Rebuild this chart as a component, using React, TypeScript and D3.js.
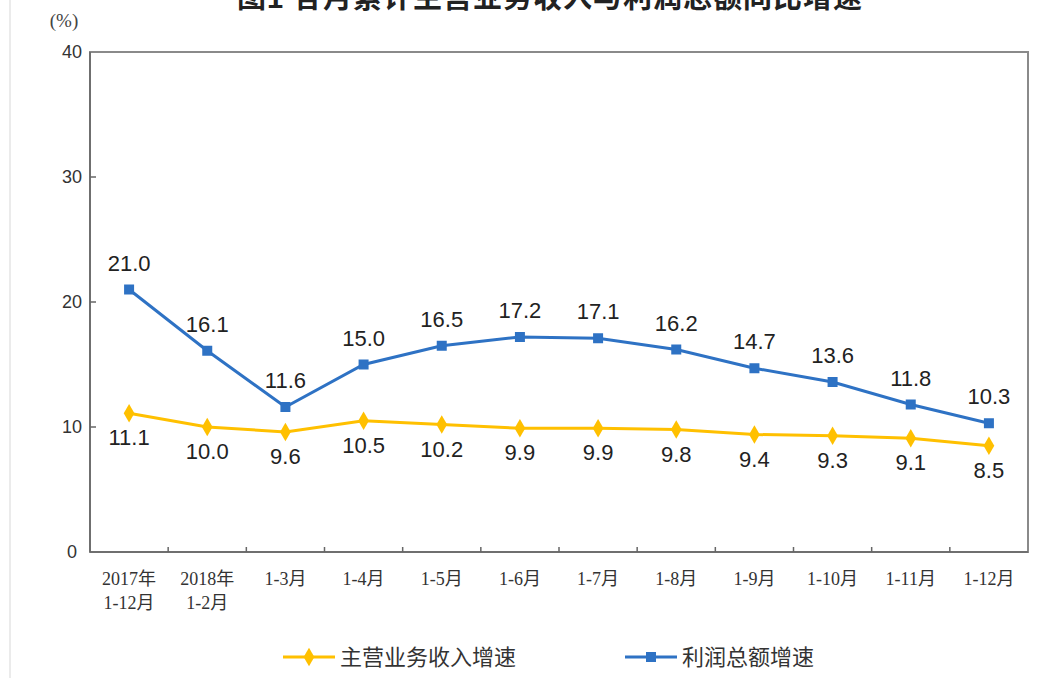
import React from "react";
import * as d3 from "d3";

const categories = [
	["2017年", "1-12月"],
	["2018年", "1-2月"],
	["1-3月"],
	["1-4月"],
	["1-5月"],
	["1-6月"],
	["1-7月"],
	["1-8月"],
	["1-9月"],
	["1-10月"],
	["1-11月"],
	["1-12月"],
];
const revenueGrowth = [11.1, 10.0, 9.6, 10.5, 10.2, 9.9, 9.9, 9.8, 9.4, 9.3, 9.1, 8.5];
const profitGrowth = [21.0, 16.1, 11.6, 15.0, 16.5, 17.2, 17.1, 16.2, 14.7, 13.6, 11.8, 10.3];
const yTicks = [0, 10, 20, 30, 40];
const seriesNames = ["主营业务收入增速", "利润总额增速"];
const title = "图1  各月累计主营业务收入与利润总额同比增速";

const W = 1049;
const H = 678;
const left = 90;
const right = 1028;
const top = 52;
const bottom = 552;
const yellow = "#FFC000";
const blue = "#2E72C4";
const serif = "'Liberation Serif', 'Noto Sans CJK SC', serif";
const sans = "'Liberation Sans', Arial, 'Noto Sans CJK SC', sans-serif";

const idx = categories.map((_, i) => i);
const x = d3.scaleBand<number>().domain(idx).range([left, right]);
const cx = (i: number) => (x(i) as number) + x.bandwidth() / 2;
const y = d3.scaleLinear().domain([0, 40]).range([bottom, top]);
const line = d3
	.line<number>()
	.x((_, i) => cx(i))
	.y((d) => y(d));
const diamond = d3.symbol().type(d3.symbolDiamond).size(100);

export default function App() {
	return (
		<svg
			width={W}
			height={H}
			style={{ display: "block", position: "absolute", left: 0, top: 0, background: "#fff" }}>
			<line x1={10} x2={10} y1={0} y2={H} stroke="#e4e4e4" strokeWidth={1.5} />
			<text
				x={550}
				y={8}
				textAnchor="middle"
				style={{ fontFamily: sans, fontSize: 29, fontWeight: "bold", fill: "#222", letterSpacing: 1 }}>
				{title}
			</text>
			<text x={64} y={27} textAnchor="middle" style={{ fontFamily: serif, fontSize: 19, fill: "#444" }}>
				(%)
			</text>
			{/* frame */}
			<rect x={left} y={top} width={right - left} height={bottom - top} fill="none" stroke="#8a8a8a" strokeWidth={2} />
			<line x1={left} x2={left} y1={top} y2={bottom} stroke="#666" strokeWidth={1.5} />
			<line x1={left} x2={right} y1={bottom} y2={bottom} stroke="#666" strokeWidth={1.5} />
			{yTicks.map((t) => (
				<g key={t}>
					{t > 0 && t < 40 ? <line x1={left} x2={left + 6} y1={y(t)} y2={y(t)} stroke="#666" strokeWidth={1.5} /> : null}
					<text
						x={72}
						y={y(t)}
						dy="0.35em"
						textAnchor="middle"
						style={{ fontFamily: sans, fontSize: 18, fill: "#333" }}>
						{t}
					</text>
				</g>
			))}
			{idx.slice(1).map((i) => (
				<line key={i} x1={x(i)} x2={x(i)} y1={bottom} y2={bottom - 5} stroke="#666" strokeWidth={1.5} />
			))}
			{categories.map((lines, i) => (
				<text key={i} textAnchor="middle" style={{ fontFamily: serif, fontSize: 18, fill: "#333" }}>
					{lines.map((s, j) => (
						<tspan key={j} x={cx(i)} y={585 + j * 24}>
							{s}
						</tspan>
					))}
				</text>
			))}
			{/* revenue series */}
			<path d={line(revenueGrowth) as string} fill="none" stroke={yellow} strokeWidth={3} />
			{revenueGrowth.map((v, i) => (
				<g key={i}>
					<path d={diamond() as string} transform={`translate(${cx(i)},${y(v)})`} fill={yellow} />
					<text x={cx(i)} y={y(v) + 32} textAnchor="middle" style={{ fontFamily: sans, fontSize: 22, fill: "#222" }}>
						{v.toFixed(1)}
					</text>
				</g>
			))}
			{/* profit series */}
			<path d={line(profitGrowth) as string} fill="none" stroke={blue} strokeWidth={3} />
			{profitGrowth.map((v, i) => (
				<g key={i}>
					<rect x={cx(i) - 5} y={y(v) - 5} width={10} height={10} fill={blue} />
					<text x={cx(i)} y={y(v) - 19} textAnchor="middle" style={{ fontFamily: sans, fontSize: 22, fill: "#222" }}>
						{v.toFixed(1)}
					</text>
				</g>
			))}
			{/* legend */}
			<g transform="translate(283,657)">
				<line x1={0} x2={52} stroke={yellow} strokeWidth={3} />
				<path d={diamond() as string} transform="translate(26,0)" fill={yellow} />
				<text x={57} dy="0.35em" style={{ fontFamily: sans, fontSize: 22, fill: "#333" }}>
					{seriesNames[0]}
				</text>
			</g>
			<g transform="translate(625,657)">
				<line x1={0} x2={52} stroke={blue} strokeWidth={3} />
				<rect x={21} y={-5} width={10} height={10} fill={blue} />
				<text x={57} dy="0.35em" style={{ fontFamily: sans, fontSize: 22, fill: "#333" }}>
					{seriesNames[1]}
				</text>
			</g>
		</svg>
	);
}
